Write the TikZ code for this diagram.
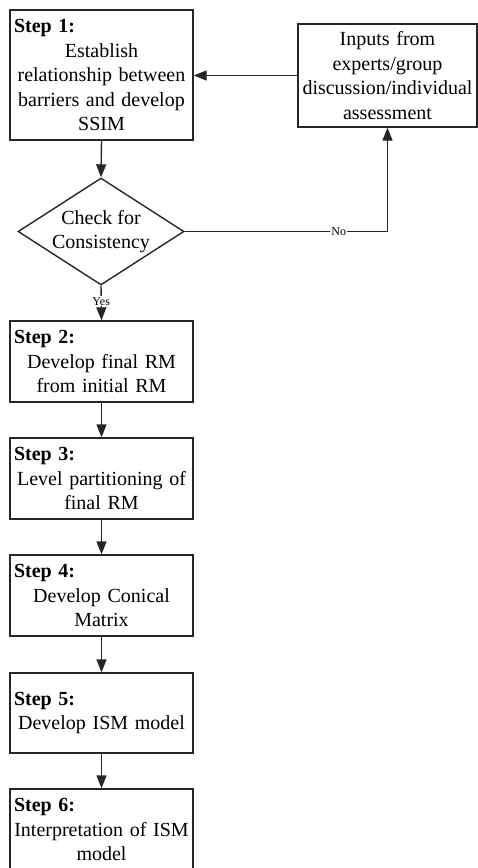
\documentclass[tikz,border=0pt]{standalone}
\usepackage{fontspec}
\setmainfont{Liberation Serif}
\usetikzlibrary{calc}
\usetikzlibrary{shapes}
\usetikzlibrary{arrows.meta}

\newcommand{\stephead}[1]{\makebox[\linewidth][l]{\textbf{Step #1:}}\\}

\begin{document}
\begin{tikzpicture}[x=1pt, y=-1pt, font=\fontsize{20}{24.5}\selectfont,
  stepbox/.style={draw=black!85, line width=1.4pt, text width=175pt, align=center, minimum width=183pt, minimum height=81pt, inner sep=4pt},
  inputbox/.style={draw=black!85, line width=1.4pt, text width=175pt, align=center, minimum width=179pt, minimum height=103pt, inner sep=2pt},
  check/.style={draw=black!85, diamond, shape aspect=1.55, line width=1.4pt, align=center, minimum width=166pt, minimum height=107pt, inner sep=0pt},
  flow/.style={draw=black!85, line width=1.4pt, -{Triangle[length=13pt,width=10pt]}},
  lbl/.style={fill=white, inner sep=1pt, font=\fontsize{12}{14}\selectfont}]
\useasboundingbox (0,0) rectangle (478,868);
\node[name=s1, stepbox, minimum height=130pt] at (101.5,75) {\stephead{1}Establish\\relationship between\\barriers and develop\\SSIM};
\node[name=inp, inputbox] at (387.5,75.5) {Inputs from\\experts/group\\discussion/individual\\assessment};
\node[name=chk, check] at (101,231.5) {Check for\\Consistency};
\node[name=s2, stepbox] at (101.5,361.5) {\stephead{2}Develop final RM\\from initial RM};
\node[name=s3, stepbox] at (101.5,478.5) {\stephead{3}Level partitioning of\\final RM};
\node[name=s4, stepbox] at (101.5,595.5) {\stephead{4}Develop Conical\\Matrix};
\node[name=s5, stepbox, minimum height=80pt] at (101.5,713) {\stephead{5}Develop ISM model};
\node[name=s6, stepbox] at (101.5,829.5) {\stephead{6}Interpretation of ISM\\model};
\draw[flow] (inp.west) to (s1.east |- inp.west);
\draw[flow] (s1.south) to (chk.north);
\draw[flow] (chk.east) -- node[lbl, pos=0.76] {No} (chk.east -| inp.south) -- (inp.south);
\draw[flow] (chk.south) -- node[lbl, pos=0.45] {Yes} (s2.north);
\draw[flow] (s2.south) to (s3.north);
\draw[flow] (s3.south) to (s4.north);
\draw[flow] (s4.south) to (s5.north);
\draw[flow] (s5.south) to (s6.north);
\end{tikzpicture}
\end{document}
